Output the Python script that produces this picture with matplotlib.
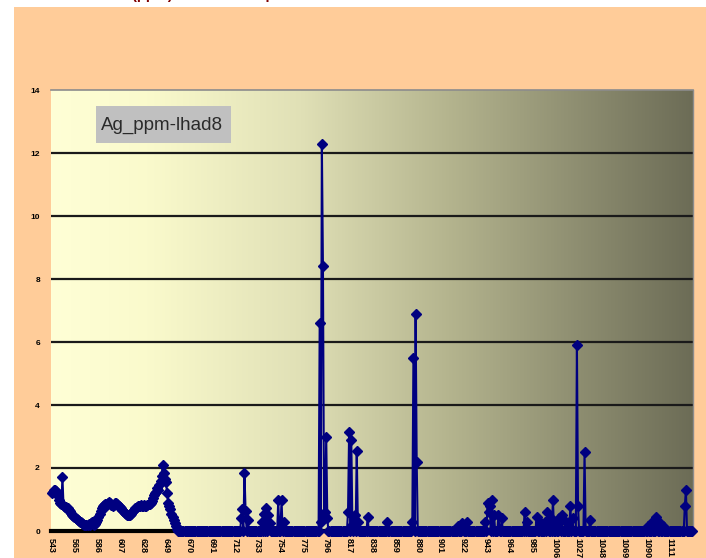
import numpy as np
import matplotlib
matplotlib.use("Agg")
import matplotlib.pyplot as plt
from matplotlib.patches import Rectangle

# ---------------- data ----------------
n_samples = 589

tick_labels = ["543", "565", "586", "607", "628", "649", "670", "691", "712",
               "733", "754", "775", "796", "817", "838", "859", "880", "901",
               "922", "943", "964", "985", "1006", "1027", "1048", "1069",
               "1090", "1111"]
tick_every = 21

# continuous background section at the top of the hole (samples 0..115)
head_values = [
    1.20, 1.25, 1.30, 1.30, 1.28, 1.20, 1.10, 1.00, 0.90, 0.85,
    1.70, 0.80, 0.75, 0.75, 0.70, 0.72, 0.68, 0.62, 0.58, 0.52,
    0.48, 0.45, 0.40, 0.38, 0.35, 0.32, 0.30, 0.28, 0.25, 0.22,
    0.20, 0.20, 0.18, 0.20, 0.22, 0.20, 0.25, 0.30, 0.25, 0.20,
    0.22, 0.28, 0.35, 0.45, 0.55, 0.65, 0.72, 0.78, 0.82, 0.85,
    0.80, 0.85, 0.90, 0.92, 0.88, 0.82, 0.78, 0.82, 0.88, 0.90,
    0.85, 0.80, 0.78, 0.75, 0.72, 0.68, 0.62, 0.58, 0.55, 0.52,
    0.50, 0.50, 0.52, 0.55, 0.60, 0.62, 0.68, 0.72, 0.75, 0.78,
    0.80, 0.80, 0.82, 0.80, 0.80, 0.82, 0.80, 0.80, 0.82, 0.85,
    0.85, 0.88, 0.95, 1.05, 1.15, 1.20, 1.25, 1.35, 1.30, 1.45,
    1.60, 1.75, 2.10, 1.85, 1.65, 1.55, 1.20, 0.90, 0.80, 0.70,
    0.55, 0.45, 0.35, 0.25, 0.15, 0.05,
]

# isolated anomalies further down (sample index, Ag ppm)
spike_index = [174, 175, 177, 178, 180,
               193, 195, 197, 199, 200,
               208, 211, 213,
               246, 247, 248, 249, 250, 251, 252, 253,
               272, 273, 275, 276, 278, 280, 281,
               290, 308,
               331, 332, 334, 335,
               373, 377, 381,
               398, 400, 401, 402, 404, 406, 410, 413,
               434, 436, 445, 448,
               453, 455, 458, 460, 463,
               466, 468, 472, 476, 478,
               482, 483, 489, 494,
               547, 551, 555, 558, 561,
               581, 582]
spike_value = [0.40, 0.70, 1.85, 0.65, 0.35,
               0.30, 0.55, 0.72, 0.50, 0.25,
               1.00, 1.00, 0.30,
               6.60, 0.30, 12.30, 8.40, 0.50, 0.60, 3.00, 0.40,
               0.60, 3.15, 2.90, 0.20, 0.50, 2.55, 0.30,
               0.45, 0.30,
               0.30, 5.50, 6.90, 2.20,
               0.15, 0.25, 0.30,
               0.30, 0.90, 0.60, 0.80, 1.00, 0.50, 0.50, 0.40,
               0.60, 0.30, 0.45, 0.30,
               0.30, 0.60, 0.40, 1.00, 0.30,
               0.40, 0.50, 0.30, 0.80, 0.40,
               5.90, 0.80, 2.50, 0.35,
               0.15, 0.30, 0.45, 0.25, 0.15,
               0.80, 1.30]

series_name = "Ag_ppm-lhad8"

# ---------------- assemble series ----------------
ag_ppm = np.zeros(n_samples)
ag_ppm[:len(head_values)] = head_values
ag_ppm[spike_index] = spike_value
sample_pos = np.arange(n_samples)

# ---------------- figure ----------------
W, H = 706, 558
fig = plt.figure(figsize=(W / 100, H / 100), dpi=100)
fig.patch.set_facecolor("white")

# peach chart area
fig.patches.append(Rectangle((14 / W, 0), 1 - 14 / W, (H - 7) / H,
                             transform=fig.transFigure, facecolor="#FFCC99",
                             edgecolor="none", zorder=-10))

# chart title (runs off the top edge)
fig.text(88 / W, 1 + 0.5 / H, "Silver (ppm) in lhad8 samples", color="#800000",
         fontsize=10.5, fontweight="bold", family="Liberation Sans",
         ha="left", va="baseline", zorder=5)

L, R, T, B = 51, 693, 90, 531
ax = fig.add_axes([L / W, (H - B) / H, (R - L) / W, (B - T) / H])
ax.set_facecolor("none")

# horizontal gradient fill of the plot area
stops_t = [0.0, 0.15, 0.39, 0.62, 0.80, 1.0]
stops_c = np.array([[255, 255, 214], [250, 250, 204], [224, 224, 182],
                    [180, 180, 142], [146, 146, 116], [108, 108, 86]]) / 255
tt = np.linspace(0, 1, 512)
grad = np.stack([np.interp(tt, stops_t, stops_c[:, k]) for k in range(3)], axis=-1)
ax.imshow(grad[np.newaxis, :, :], extent=[0, 1, 0, 1], transform=ax.transAxes,
          aspect="auto", zorder=0, interpolation="bilinear")

ax.set_xlim(-0.5, n_samples - 0.5)
ax.set_ylim(0, 14)

# gridlines
for g in range(2, 14, 2):
    ax.axhline(g, color="#1a1a1a", lw=1.6, zorder=1)

ax.plot(sample_pos, ag_ppm, color="#000080", lw=1.5, marker="D", ms=4.8,
        mfc="#000080", mec="#000080", mew=1.0, zorder=4, clip_on=False)

# spines
ax.spines["left"].set_visible(False)
ax.spines["top"].set_color("#8c8c8c")
ax.spines["top"].set_linewidth(1.2)
ax.spines["right"].set_color("#8c8c8c")
ax.spines["right"].set_linewidth(1.0)
ax.spines["bottom"].set_color("black")
ax.spines["bottom"].set_linewidth(3)
ax.spines["bottom"].set_zorder(3)

ax.set_yticks(range(0, 15, 2))
ax.set_yticklabels([str(v) for v in range(0, 15, 2)], fontsize=6,
                   fontweight="bold", family="Liberation Sans")
ax.tick_params(axis="y", length=0, pad=8)

ax.set_xticks(np.arange(len(tick_labels)) * tick_every)
ax.set_xticklabels(tick_labels, rotation=270, fontsize=6.5, fontweight="bold",
                   family="Liberation Sans")
ax.tick_params(axis="x", length=0, pad=5)

# series label box
fig.patches.append(Rectangle((96 / W, 1 - 143 / H), 135 / W, 37 / H,
                             transform=fig.transFigure, facecolor="#C0C0C0",
                             edgecolor="none", zorder=6))
fig.text(101 / W, 1 - 125 / H, series_name, fontsize=13.5,
         family="Liberation Sans", color="#2a2a2a", ha="left", va="center",
         zorder=7)

fig.savefig("out.png", dpi=100)
